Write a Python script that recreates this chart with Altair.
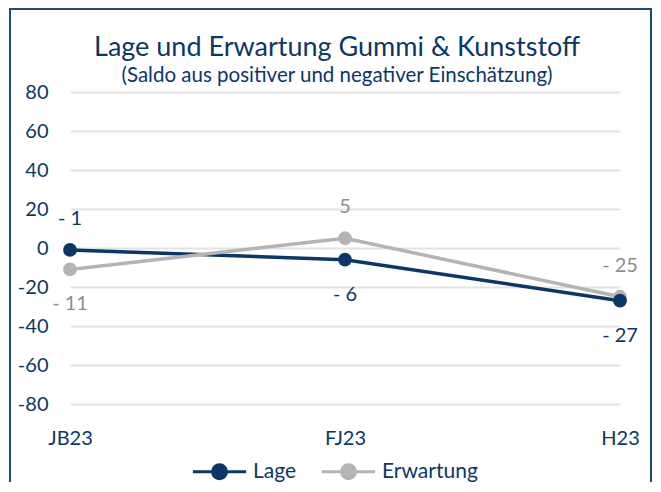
import altair as alt
import pandas as pd

periods = ["JB23", "FJ23", "H23"]
lage = [-1, -6, -27]
erwartung = [-11, 5, -25]
lage_place = ["above", "below", "below"]
erw_place = ["below", "above", "above"]
series_names = ["Lage", "Erwartung"]
y_ticks = [-80, -60, -40, -20, 0, 20, 40, 60, 80]

BLUE = "#0b3768"
GRAY = "#b4b4b4"
GRAY_TXT = "#8e8e8e"
FONT = "Lato"

def lab(v):
    return f"- {abs(v)}" if v < 0 else f"{v}"

rows = []
for name, vals, places in [("Lage", lage, lage_place), ("Erwartung", erwartung, erw_place)]:
    for p, v, pl in zip(periods, vals, places):
        rows.append({"series": name, "period": p, "value": v, "label": lab(v), "place": pl})
df = pd.DataFrame(rows)

x_enc = alt.X("period:N", sort=periods, scale=alt.Scale(padding=0),
              axis=alt.Axis(title=None, labelAngle=0, domain=False, ticks=False,
                            labelPadding=24, labelFontSize=20, labelColor=BLUE,
                            labelFont=FONT, grid=False))
y_enc = alt.Y("value:Q", scale=alt.Scale(domain=[-80, 80], nice=False),
              axis=alt.Axis(title=None, values=y_ticks, domain=False, ticks=False,
                            labelPadding=22, labelFontSize=20, labelColor=BLUE,
                            labelFont=FONT, gridColor="#e3e3e3", gridWidth=2,
                            labelOverlap=False, labelExpr="'' + datum.value"))

legend_path = "M-3.8,0L3.8,0M-1,0A1,1,0,1,0,1,0A1,1,0,1,0,-1,0Z"

color_enc = alt.Color("series:N", sort=series_names,
                      scale=alt.Scale(domain=series_names, range=[BLUE, GRAY]),
                      legend=alt.Legend(title=None, orient="none", direction="horizontal",
                                        legendX=139, legendY=369,
                                        symbolType=legend_path, symbolSize=196,
                                        symbolStrokeWidth=3, labelFontSize=21,
                                        labelColor=BLUE, labelFont=FONT,
                                        labelOffset=23, columnPadding=18))

base = alt.Chart(df)

lines = base.mark_line(strokeWidth=3.5, point=alt.OverlayMarkDef(size=190, filled=True, opacity=1)).encode(
    x=x_enc, y=y_enc, color=color_enc, order=alt.Order("series:N"))

txt_color = alt.condition(alt.datum.series == "Lage", alt.value(BLUE), alt.value(GRAY_TXT))
above = base.transform_filter(alt.datum.place == "above").mark_text(
    dy=-31, baseline="middle", fontSize=20, font=FONT).encode(
    x=x_enc, y=y_enc, text="label:N", color=txt_color)
below = base.transform_filter(alt.datum.place == "below").mark_text(
    dy=35, baseline="middle", fontSize=20, font=FONT).encode(
    x=x_enc, y=y_enc, text="label:N", color=txt_color)

border = alt.Chart(pd.DataFrame({"a": [0]})).mark_rect(
    filled=False, stroke="#1f4a7a", strokeWidth=2).encode(
    x=alt.value(-60), x2=alt.value(581), y=alt.value(-83), y2=alt.value(520))

chart = alt.layer(border, lines, above, below).properties(
    width=550, height=312,
    title=alt.TitleParams(
        text="Lage und Erwartung Gummi & Kunststoff",
        subtitle="(Saldo aus positiver und negativer Einschätzung)",
        fontSize=27, subtitleFontSize=20.5, font=FONT, subtitleFont=FONT,
        fontWeight="normal", color=BLUE, subtitleColor=BLUE,
        anchor="middle", offset=-79, subtitlePadding=4, dx=-8),
    autosize=alt.AutoSizeParams(type="none"),
    padding={"left": 62, "top": 84, "right": 33, "bottom": 78},
).configure(background="white").configure_view(strokeWidth=0, stroke="transparent")

chart.save("out.html", embed_options={"renderer": "svg", "actions": False})
